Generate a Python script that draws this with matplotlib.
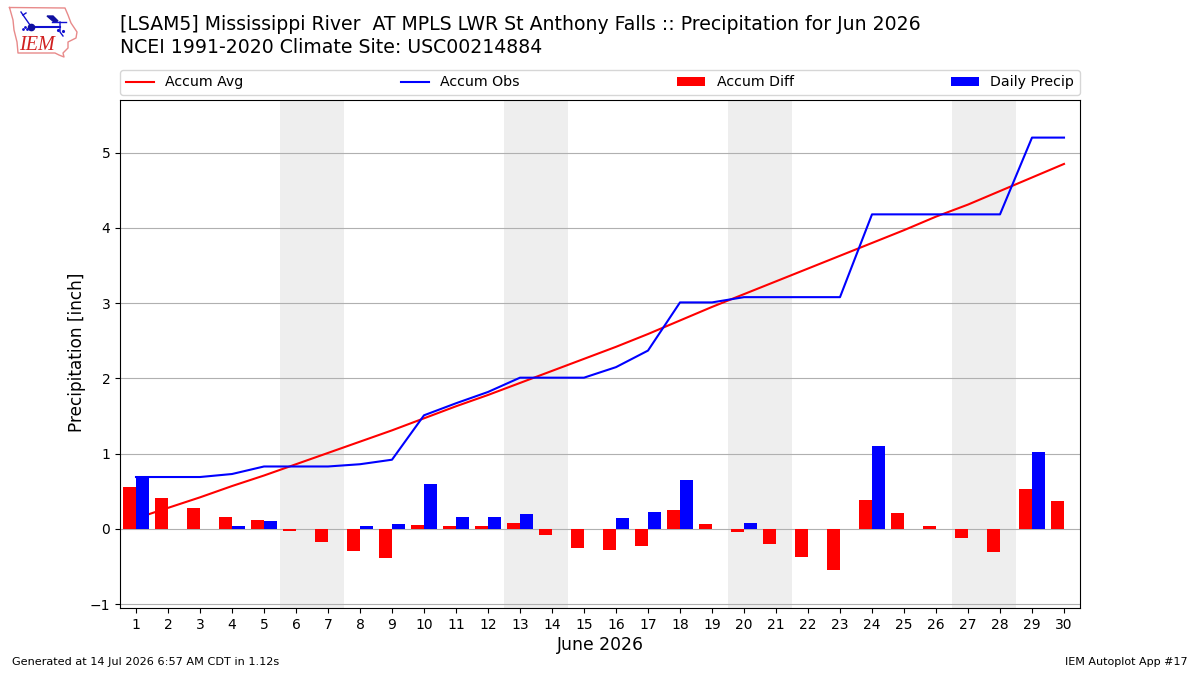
import numpy as np
import matplotlib
matplotlib.use('Agg')
from matplotlib import pyplot as plt

days = np.arange(1, 31)
accum_avg = [0.14, 0.28, 0.42, 0.57, 0.71, 0.86, 1.01, 1.16, 1.31, 1.47,
             1.63, 1.78, 1.94, 2.10, 2.26, 2.42, 2.59, 2.77, 2.95, 3.12,
             3.29, 3.46, 3.63, 3.80, 3.97, 4.15, 4.31, 4.49, 4.67, 4.85]
accum_obs = [0.69, 0.69, 0.69, 0.73, 0.83, 0.83, 0.83, 0.86, 0.92, 1.51,
             1.67, 1.82, 2.01, 2.01, 2.01, 2.15, 2.37, 3.01, 3.01, 3.08,
             3.08, 3.08, 3.08, 4.18, 4.18, 4.18, 4.18, 4.18, 5.20, 5.20]
accum_diff = [0.56, 0.41, 0.28, 0.16, 0.12, -0.03, -0.17, -0.29, -0.38, 0.05,
              0.04, 0.04, 0.08, -0.08, -0.25, -0.28, -0.22, 0.25, 0.07, -0.04,
              -0.20, -0.37, -0.54, 0.38, 0.21, 0.04, -0.12, -0.30, 0.53, 0.37]
daily_precip = [0.70, 0, 0, 0.04, 0.11, 0, 0, 0.04, 0.07, 0.60,
                0.16, 0.16, 0.20, 0, 0, 0.15, 0.23, 0.65, 0, 0.08,
                0, 0, 0, 1.10, 0, 0, 0, 0, 1.02, 0]
weekends = [6, 13, 20, 27]
yticks = [-1, 0, 1, 2, 3, 4, 5]

fig = plt.figure(figsize=(12, 6.75), dpi=100)
ax = fig.add_axes([0.1, 0.0993, 0.8, 0.7526])

for start in weekends:
    ax.axvspan(start - 0.5, start + 1.5, color='#eeeeee', lw=0)

ax.plot(days, accum_avg, color='r', lw=1.5, label='Accum Avg')
ax.plot(days, accum_obs, color='b', lw=1.5, label='Accum Obs')
ax.bar(days - 0.2, accum_diff, width=0.4, color='r', zorder=3, label='Accum Diff')
ax.bar(days + 0.2, daily_precip, width=0.4, color='b', zorder=3, label='Daily Precip')

ax.set_xlim(0.5, 30.5)
ax.set_ylim(-1.05, 5.70)
ax.set_xticks(days)
ax.set_yticks(yticks)
ax.grid(axis='y')
ax.set_xlabel('June 2026', fontsize=12.4, labelpad=3)
ax.set_ylabel('Precipitation [inch]', fontsize=12.2, labelpad=3, y=0.503)
ax.legend(loc='lower left', bbox_to_anchor=(0, 1.0095, 1, 0.06), ncol=4,
          mode='expand', borderaxespad=0, fontsize=10.2)

fig.text(0.1, 0.9635, '[LSAM5] Mississippi River  AT MPLS LWR St Anthony Falls :: Precipitation for Jun 2026',
         fontsize=13.55, va='center')
fig.text(0.1, 0.929, 'NCEI 1991-2020 Climate Site: USC00214884', fontsize=13.55, va='center')
fig.text(0.01, 0.0125, 'Generated at 14 Jul 2026 6:57 AM CDT in 1.12s', fontsize=8.1, va='bottom')
fig.text(0.99, 0.0125, 'IEM Autoplot App #17', fontsize=8, ha='right', va='bottom')

# small station logo, laid out in figure pixels
logo = fig.add_axes([0, 0, 1, 1], facecolor='none')
logo.set_xlim(0, 1200)
logo.set_ylim(675, 0)
logo.axis('off')
state_x = [9.5, 65, 68, 71, 77, 76, 68, 68, 63, 64, 59, 55, 18, 17, 14, 13, 9.5]
state_y = [7.5, 8, 15, 23, 32, 38, 42, 48, 53, 57, 55, 53, 53, 42, 30, 20, 7.5]
logo.plot(state_x, state_y, color='#e88a8a', lw=1)
logo.plot([31, 60], [26.5, 26.5], color='#1010d0', lw=1.5)
logo.plot([31, 23, 21], [26.5, 15, 12], color='#1010d0', lw=1)
logo.plot([23, 26], [15, 13], color='#1010d0', lw=1)
logo.plot([31], [26.5], 'o', color='#1010a0', ms=4.5)
logo.fill([47, 53, 58, 54], [16, 16, 21, 22], color='#1010a0')
logo.plot([52, 66], [22, 22], color='#1010d0', lw=1)
logo.plot([60, 60, 63], [22, 32, 36], color='#1010d0', lw=1)
logo.plot([58, 63], [30, 31], '.', color='#1010d0', ms=2.5)
logo.plot([23, 25, 27], [29, 27, 29], '.', color='#1010d0', ms=2)
logo.text(37, 45, 'IEM', family='Liberation Serif', style='italic', color='#d02020',
          fontsize=14.5, ha='center', va='center')

fig.savefig('out.png', dpi=100)
